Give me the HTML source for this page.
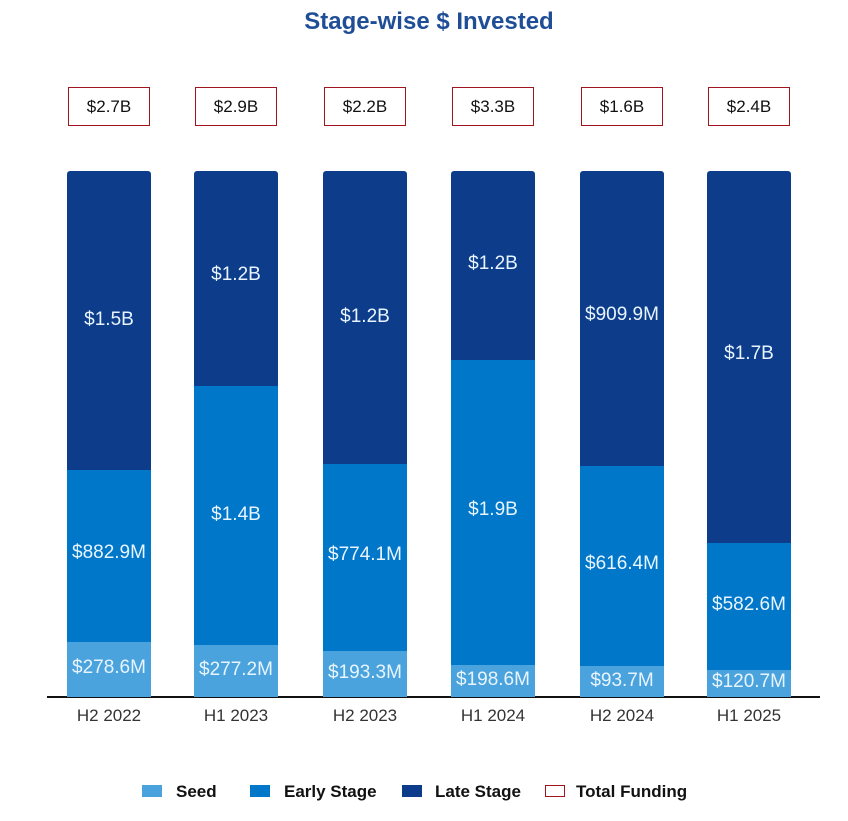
<!DOCTYPE html>
<html><head><meta charset="utf-8"><style>
body{margin:0;width:848px;height:821px;background:#fff;font-family:"Liberation Sans",sans-serif;position:relative;overflow:hidden}
.a{position:absolute}
.t{left:0;width:858px;top:8px;text-align:center;font-weight:bold;font-size:24px;color:#1f4e96}
.box{border:1.5px solid #a0141e;width:80px;height:37px;line-height:37px;text-align:center;font-size:17px;color:#111;top:87px}
.bar{width:84px;top:171px;height:526px;border-radius:3px 3px 0 0;overflow:hidden}
.s{position:absolute;left:0;width:84px}
.l{position:absolute;left:-4px;width:92px;text-align:center;color:#e8f4ff;font-size:19px;transform:translateY(-50%)}
.x{top:706px;width:120px;text-align:center;font-size:17px;color:#333}
.lg{top:782px;font-weight:bold;font-size:17px;color:#111}
.sw{width:20px;height:12px;top:785px}
</style></head><body>
<div class="a t">Stage-wise $ Invested</div>
<div class="a" style="left:47px;top:696px;width:773px;height:2px;background:#111"></div>
<div id="c"></div>
<script>
var d=[[67,470,642,320,553,668,"$1.5B","$882.9M","$278.6M","$2.7B","H2 2022"],
[194,386,645,275,515,670,"$1.2B","$1.4B","$277.2M","$2.9B","H1 2023"],
[323,464,651,317,555,673,"$1.2B","$774.1M","$193.3M","$2.2B","H2 2023"],
[451,360,665,264,510,680,"$1.2B","$1.9B","$198.6M","$3.3B","H1 2024"],
[580,466,666,315,564,681,"$909.9M","$616.4M","$93.7M","$1.6B","H2 2024"],
[707,543,670,354,605,682,"$1.7B","$582.6M","$120.7M","$2.4B","H1 2025"]];
var h="";
d.forEach(function(r){var x=r[0];
h+='<div class="a bar" style="left:'+x+'px"><div class="s" style="top:0;height:'+(r[1]-171)+'px;background:#0d3d8a"></div><div class="s" style="top:'+(r[1]-171)+'px;height:'+(r[2]-r[1])+'px;background:#0077c8"></div><div class="s" style="top:'+(r[2]-171)+'px;height:'+(697-r[2])+'px;background:#4aa3dc"></div></div>';
h+='<div class="a l" style="left:'+(x-4)+'px;top:'+r[3]+'px">'+r[6]+'</div><div class="a l" style="left:'+(x-4)+'px;top:'+r[4]+'px">'+r[7]+'</div><div class="a l" style="left:'+(x-4)+'px;top:'+r[5]+'px">'+r[8]+'</div>';
h+='<div class="a box" style="left:'+(x+1)+'px">'+r[9]+'</div><div class="a x" style="left:'+(x-18)+'px">'+r[10]+'</div>';});
document.getElementById("c").innerHTML=h;
</script>
<div class="a sw" style="left:142px;background:#4aa3dc"></div><div class="a lg" style="left:176px">Seed</div>
<div class="a sw" style="left:250px;background:#0077c8"></div><div class="a lg" style="left:284px">Early Stage</div>
<div class="a sw" style="left:402px;background:#0d3d8a"></div><div class="a lg" style="left:435px">Late Stage</div>
<div class="a sw" style="left:545px;width:18px;height:10px;border:1px solid #a0141e"></div><div class="a lg" style="left:576px">Total Funding</div>
</body></html>
